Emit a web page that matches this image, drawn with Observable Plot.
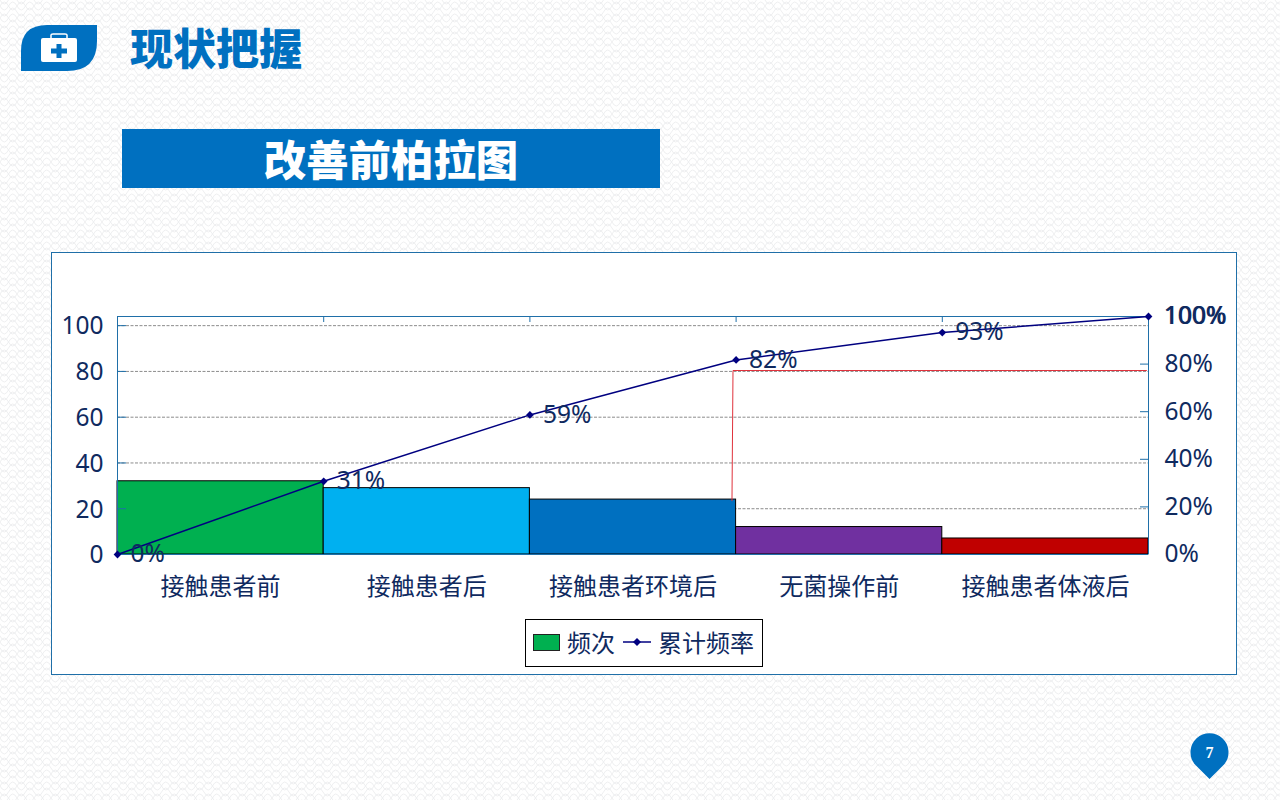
<!DOCTYPE html>
<html><head><meta charset="utf-8">
<script src="https://cdn.jsdelivr.net/npm/d3@7"></script>
<script src="https://cdn.jsdelivr.net/npm/@observablehq/plot@0.6"></script>
<style>
html,body{margin:0;padding:0;width:1280px;height:800px;overflow:hidden}
body{position:relative;font-family:"Noto Sans CJK SC","Noto Sans",sans-serif;background-color:#fff;
background-image:url("data:image/svg+xml,%3Csvg xmlns='http://www.w3.org/2000/svg' width='17' height='12'%3E%3Cpath d='M0 6Q4.25 -2 8.5 6T17 6M0 6Q4.25 14 8.5 6T17 6M-8.5 0Q-4.25 -8 0 0T8.5 0T17 0T25.5 0M-8.5 12Q-4.25 4 0 12T8.5 12T17 12T25.500 12' fill='none' stroke='%23e6e8ea' stroke-width='.7'/%3E%3C/svg%3E")}
#heading{position:absolute;left:130px;top:16px;font-size:43px;line-height:60px;font-weight:900;color:#0070c0;white-space:nowrap}
#banner{position:absolute;left:122px;top:129px;width:538px;height:59px;background:#0070c0;color:#fff;font-size:42.4px;font-weight:900;line-height:57px;text-align:center;white-space:nowrap}
#panel{position:absolute;left:51px;top:252px;width:1184px;height:421px;background:#fff;border:1px solid #1f6fa8}
#panel>svg{position:absolute;left:-1px;top:-1px;background:transparent;overflow:visible;max-width:none;height:422px}
#legend{position:absolute;left:525px;top:619px;width:236px;height:46px;border:1px solid #000;background:#fff;font-size:24px;color:#0f2a5f;line-height:44px;white-space:nowrap}
#legend span{position:absolute;top:0}
#legend i{position:absolute;left:7px;top:14px;width:25px;height:15px;background:#00b050;border:1px solid #222;box-sizing:content-box}
#legend svg{position:absolute;left:97px;top:14px}
.deco{position:absolute}
</style></head><body>
<svg class="deco" style="left:21px;top:25px" width="77" height="46" viewBox="0 0 77 46">
<path d="M26 0H76V16Q76 46 46 46H0V26Q0 0 26 0Z" fill="#0070c0"/>
<rect x="20" y="13" width="36" height="24" rx="2" fill="#fff"/>
<path d="M30 13V10Q30 9 32 9H44Q46 9 46 10V13" fill="none" stroke="#fff" stroke-width="1.5"/>
<path d="M35.500 19H40.500V23.500H46V28.500H40.500V33H35.500V28.500H30V23.500H35.500Z" fill="#0070c0"/>
</svg>
<div id="heading">现状把握</div>
<div id="banner">改善前柏拉图</div>
<div id="panel"></div>
<div id="legend"><i></i><span style="left:41px">频次</span>
<svg width="30" height="16" viewBox="0 0 30 16"><path d="M0 8H28" stroke="#000080" stroke-width="1.500"/><path d="M14 4L18 8L14 12L10 8Z" fill="#000080"/></svg>
<span style="left:132px">累计频率</span></div>
<svg class="deco" style="left:1190px;top:733px" width="39" height="46" viewBox="0 0 39 46">
<path d="M19.500 46L4.500 31A19 19 0 1 1 34.500 31Z" fill="#0070c0"/>
<text x="19.500" y="24.500" text-anchor="middle" font-size="16" font-weight="700" fill="#fff" font-family="Liberation Sans Narrow">7</text>
</svg>
<script>
const categories = ["接触患者前","接触患者后","接触患者环境后","无菌操作前","接触患者体液后"];
const counts = [32, 29, 24, 12, 7];
const barColors = ["#00b050","#00b0f0","#0070c0","#7030a0","#c00000"];
const cumulative = [0, 32, 61, 85, 97, 104];
const cumulativeLabels = ["0%","31%","59%","82%","93%","100%"];
const leftTicks = [0, 20, 40, 60, 80, 100];
const gridTicks = [20, 40, 60, 80, 100];
const rightTickShares = [0, 20, 40, 60, 80, 100];
const redX = [2.98, 2.985, 4.99];
const redY = [23.5, 80.4, 80.4];
const total = 104;
const ink = "#0f2a5f", frame = "#1f6fa8", numFont = '"Noto Sans",sans-serif', numSize = 24.5;

const bars = counts.map((v,i)=>({i, v, c:barColors[i], name:categories[i]}));
const points = cumulative.map((v,i)=>({i, v, label:cumulativeLabels[i]}));
const red = redX.map((x,i)=>({x, y:redY[i]}));
const rightValues = rightTickShares.map(s=>s*total/100);

const chart = Plot.plot({
  width:1186, height:422,
  marginLeft:66, marginRight:89, marginTop:64, marginBottom:120,
  style:{fontFamily:'"Noto Sans CJK SC","Noto Sans",sans-serif', background:"transparent", overflow:"visible"},
  x:{type:"linear", domain:[0,5], axis:null},
  y:{domain:[0,total], axis:null},
  marks:[
    Plot.ruleY(gridTicks,{stroke:"#6f6f6f", strokeWidth:0.8, strokeDasharray:"3,1.500"}),
    Plot.rectY(bars,{x1:"i", x2:d=>d.i+1, y1:0, y2:"v", fill:"c", stroke:"#000", strokeWidth:1}),
    Plot.line(red,{x:"x", y:"y", stroke:"#e0323c", strokeWidth:1}),
    Plot.ruleY([0,total],{stroke:frame, strokeWidth:1}),
    Plot.ruleX([0,5],{stroke:frame, strokeWidth:1}),
    Plot.axisY(gridTicks,{anchor:"left", tickSize:-9, tickPadding:0, stroke:frame, label:null, tickFormat:()=>""}),
    Plot.axisY(leftTicks,{anchor:"left", tickSize:0, tickPadding:14, dy:1, fontSize:numSize, fontFamily:numFont, fill:ink, label:null, tickFormat:d=>String(d)}),
    Plot.axisY(rightValues.slice(1,5),{anchor:"right", tickSize:-9, tickPadding:0, stroke:frame, label:null, tickFormat:()=>""}),
    Plot.axisY(rightValues,{anchor:"right", tickSize:0, tickPadding:16, fontSize:numSize, fontFamily:numFont, fill:ink, label:null, tickFormat:d=>Math.round(d/total*100)+"%"}),
    Plot.axisY([total],{anchor:"right", tickSize:0, tickPadding:15, fontSize:numSize, fontFamily:numFont, fill:ink, label:null, tickFormat:()=>"100%"}),
    Plot.axisX([1,2,3,4],{anchor:"top", tickSize:-5, tickPadding:0, stroke:frame, label:null, tickFormat:()=>""}),
    Plot.text(bars,{x:d=>d.i+0.5, y:0, text:"name", dy:33, fontSize:24, fill:ink}),
    Plot.line(points,{x:"i", y:"v", stroke:"#000080", strokeWidth:1.5}),
    Plot.dot(points,{x:"i", y:"v", symbol:"diamond2", r:3.5, fill:"#000080", stroke:"none"}),
    Plot.text(points.slice(0,5),{x:"i", y:"v", text:"label", dx:13, textAnchor:"start", fontSize:numSize, fontFamily:numFont, fill:ink})
  ]
});
document.getElementById("panel").appendChild(chart);
</script>
</body></html>
